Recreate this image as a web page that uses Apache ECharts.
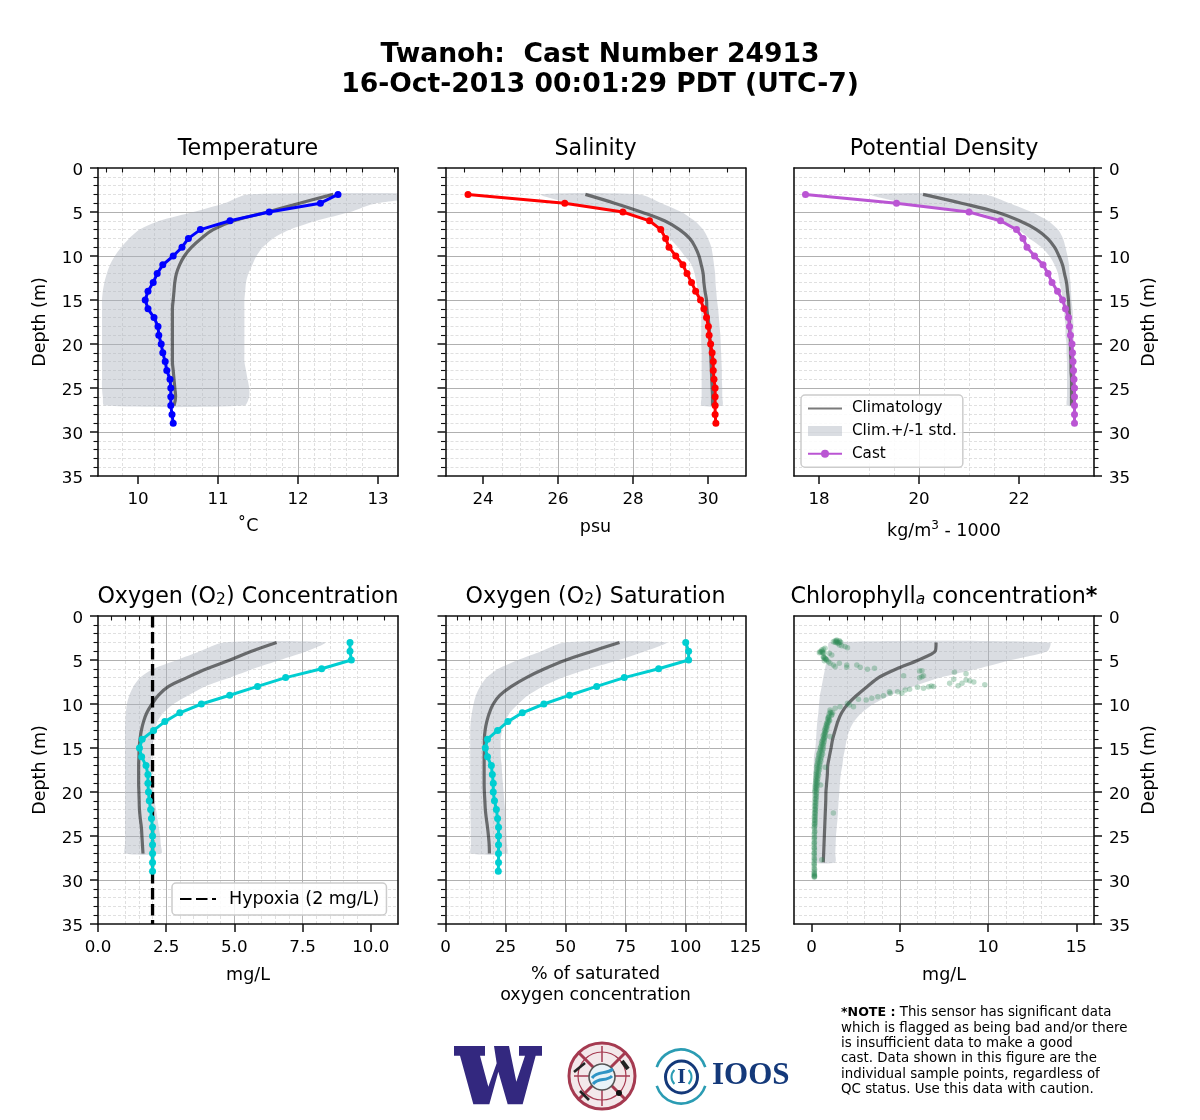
<!DOCTYPE html>
<html><head><meta charset="utf-8">
<style>html,body{margin:0;padding:0;background:#fff}#c{width:1200px;height:1120px}</style>
<script src="https://cdn.jsdelivr.net/npm/echarts@6/dist/echarts.min.js"></script>
</head><body><div id="c"></div>
<script>
// ---------- data ----------
const castDepth = [3,4,5,6,7,8,9,10,11,12,13,14,15,16,17,18,19,20,21,22,23,24,25,26,27,28,29];
const climDepth = [3,4,5,6,7,8,9,10,11,12,13,14,15,16,17,18,19,20,21,22,23,24,25,26,27];
const chlClimDepth = [3,4,5,6,7,8,9,10,11,12,13,14,15,16,17,18,19,20,21,22,23,24,25,26,27,28];

const tempCast = [12.5,12.28,11.64,11.15,10.78,10.63,10.55,10.44,10.31,10.24,10.19,10.125,10.09,10.125,10.2,10.25,10.26,10.29,10.31,10.34,10.36,10.4,10.41,10.41,10.41,10.425,10.44];
const tempClim = [12.44,12.02,11.62,11.2,10.94,10.79,10.67,10.58,10.52,10.48,10.46,10.45,10.44,10.43,10.43,10.43,10.43,10.43,10.43,10.43,10.44,10.45,10.46,10.47,10.45];
const tempLow  = [11.37,11.08,10.69,10.27,10.02,9.89,9.79,9.71,9.65,9.61,9.58,9.56,9.55,9.55,9.55,9.55,9.55,9.55,9.55,9.55,9.55,9.55,9.55,9.56,9.58];
const tempHigh = [13.9,12.98,12.65,12.23,11.9,11.69,11.56,11.48,11.43,11.38,11.35,11.34,11.33,11.33,11.33,11.33,11.33,11.33,11.33,11.33,11.35,11.37,11.39,11.39,11.33];

const salCast = [23.6,26.18,27.73,28.44,28.74,28.87,28.96,29.14,29.33,29.44,29.56,29.67,29.8,29.89,29.96,30.01,30.03,30.07,30.11,30.14,30.14,30.16,30.19,30.19,30.19,30.19,30.21];
const salClim = [26.73,27.51,28.22,28.84,29.24,29.51,29.66,29.76,29.82,29.87,29.89,29.92,29.96,29.97,30,30.03,30.04,30.06,30.07,30.08,30.09,30.1,30.11,30.12,30.12];
const salLow  = [25.55,26.36,27.82,28.44,28.76,28.98,29.2,29.38,29.56,29.64,29.69,29.73,29.78,29.82,29.82,29.82,29.82,29.82,29.83,29.83,29.83,29.83,29.83,29.83,29.83];
const salHigh = [28.18,28.76,29.29,29.64,29.87,30,30.09,30.13,30.16,30.19,30.2,30.22,30.24,30.27,30.29,30.31,30.33,30.34,30.35,30.36,30.37,30.37,30.38,30.38,30.38];

const densCast = [17.73,19.55,21,21.63,21.95,22.08,22.16,22.31,22.48,22.58,22.66,22.77,22.87,22.93,22.99,23.01,23.03,23.06,23.07,23.08,23.09,23.1,23.11,23.11,23.11,23.11,23.11];
const densClim = [20.08,20.85,21.55,22.01,22.35,22.57,22.71,22.8,22.87,22.91,22.95,22.97,22.99,23,23.01,23.01,23.02,23.03,23.03,23.04,23.04,23.05,23.05,23.05,23.05];
const densLow  = [19.05,19.75,21.15,21.65,21.98,22.21,22.45,22.61,22.71,22.78,22.81,22.85,22.88,22.9,22.91,22.93,22.93,22.95,22.95,22.96,22.96,22.96,22.96,22.96,22.96];
const densHigh = [21.31,21.81,22.25,22.58,22.78,22.88,22.93,22.97,23,23.01,23.03,23.04,23.05,23.07,23.08,23.09,23.09,23.1,23.1,23.11,23.11,23.12,23.12,23.13,23.13];

const oxyCast = [9.24,9.24,9.29,8.2,6.88,5.85,4.83,3.79,3,2.45,2.04,1.62,1.52,1.6,1.76,1.83,1.83,1.85,1.88,1.93,1.96,2,2,2,2,2,2];
const oxyClim = [6.55,5.63,4.84,3.99,3.26,2.59,2.22,1.98,1.79,1.67,1.59,1.54,1.51,1.5,1.49,1.49,1.49,1.5,1.51,1.52,1.55,1.59,1.61,1.63,1.65];
const oxyLow  = [4.6,3.74,2.89,2.04,1.55,1.3,1.15,1.06,1.02,1,0.99,0.99,0.99,0.99,0.99,0.99,0.99,0.99,0.99,0.99,0.99,0.99,0.99,0.99,0.99];
const oxyHigh = [8.32,7.65,6.67,5.7,4.84,3.93,3.32,2.77,2.4,2.18,2.1,2.04,1.98,1.96,1.97,1.99,2.01,2.04,2.07,2.13,2.18,2.23,2.28,2.3,2.32];

const satCast = [100.1,101.3,101.3,88.8,74.5,63,51.7,41,32,26,21.7,17.5,16.6,17.5,19.1,19.5,19.9,19.9,20.4,21.2,21.7,22.1,22.1,22.1,22.1,22.1,22];
const satClim = [72.5,61.2,50.2,41.3,33.7,27.5,22.7,19.9,18.3,17.2,16.5,16.2,16.2,16.1,16.1,16.1,16.1,16.2,16.4,16.6,17,17.5,17.9,18.2,18.3];
const satLow  = [49.5,39.9,30.3,22,17.2,14.4,12.7,11.7,11,10.5,10.3,10.3,10.3,10.3,10.3,10.3,10.3,10.3,10.3,10.4,10.4,10.5,10.5,10.6,10.6];
const satHigh = [92,83.2,72.2,59.8,48.8,40.6,34.4,30.3,26.8,24.8,23.6,23,23,23,23.4,23.6,23.9,24.2,24.5,24.8,25,25.2,25.4,25.6,25.6];

const chlClim = [7.05,7,6.06,4.83,3.79,3.16,2.56,2.05,1.7,1.48,1.33,1.19,1.1,1,0.91,0.89,0.85,0.81,0.8,0.78,0.76,0.74,0.72,0.7,0.68,0.66];
const chlLow  = [1,0.95,0.85,0.76,0.66,0.57,0.47,0.42,0.38,0.32,0.28,0.25,0.21,0.13,0.12,0.12,0.12,0.12,0.12,0.12,0.13,0.13,0.13,0.13,0.13,0.13];
const chlHigh = [13.5,13.35,11.3,9.4,7.3,5.78,4.45,3.5,2.84,2.4,2.14,1.99,1.9,1.8,1.74,1.65,1.6,1.57,1.53,1.5,1.47,1.42,1.38,1.36,1.34,1.33];
const chlSampleValue = [1.23,1.33,1.42,1.57,1.65,1.57,1.7,1.89,2.03,1.33,1.48,0.47,0.57,0.66,0.76,0.44,0.61,0.7,0.66,0.76,0.85,0.72,0.95,1.04,1.23,1.33,1.57,1.14,1,1.99,1.99,2.56,2.75,3.16,3.56,5.21,6.12,6.25,6.12,6.25,6.34,8.09,8.75,8.05,7.82,8.3,8.52,8.75,8.96,9.19,9.81,6.78,6.91,6.63,6.34,6,5.55,5.3,5.11,4.87,4.45,4.41,4.07,3.75,3.41,3.09,2.65,2.37,2.14,2.03,1.61,1.33,1.04,1.19,
  1.05,1.0,1.12,0.98,0.93,1.02,0.95,0.88,0.9,0.84,0.86,0.8,0.79,0.74,0.77,0.72,0.7,0.71,0.66,0.67,0.63,0.66,0.6,0.58,0.62,0.55,0.54,0.5,0.52,0.45,0.47,0.43,0.41,0.44,0.38,0.36,0.39,0.33,0.35,0.3,0.33,0.29,0.31,0.27,0.3,0.26,0.28,0.25,0.27,0.24,0.25,0.23,0.24,0.22,0.23,0.21,0.22,0.2,0.21,0.19,0.2,0.19,0.18,0.2,0.17,0.18,0.16,0.18,0.15,0.17,0.15,0.16,0.15,0.15,0.16,0.14,0.15,0.14,0.15,0.14,0.15,0.14,0.15,0.15,0.16,0.15,0.16,0.15,
  1.23,0.57,0.76,0.51,1.04,
  1.4,1.45,1.52,1.38,1.6,0.6,0.52,0.64,0.72,0.68,0.78,0.82,
  1.1,1.15,0.97,0.92,0.99,0.9,0.85,0.83,0.8,0.76,0.73,0.75,0.7,0.65,0.69,0.64,0.6,0.56,0.59,0.53,0.49,0.51,0.46,0.42,0.4,0.42,0.37,0.34,0.36,0.32,0.3,0.28,0.31,0.27,0.26,0.25,0.26,0.24,0.23,0.24,0.22,0.21,0.2,0.21,0.19,0.18,0.19,0.18,0.17,0.16,0.17,0.16,0.15,0.16,0.15,0.14,0.16,0.15,0.14,0.15,0.15,0.16,0.15,0.17,0.15,0.16];
const chlSampleDepth = [2.92,2.8,2.73,2.8,2.99,3.3,3.37,3.48,3.6,2.99,3.11,4.05,3.86,3.79,3.67,4.17,4.13,4.24,4.62,4.81,5,5.08,5.19,5.38,5.57,5.76,5.38,4.43,4.24,5.57,5.83,5.57,5.83,6.06,5.95,6.78,6.25,6.21,7.01,6.89,6.78,6.4,6.55,7.2,7.65,7.92,7.65,7.27,7.35,7.5,7.8,7.95,8,8.03,8.22,8.1,8.33,8.41,8.79,8.6,8.79,8.6,9.05,9.17,9.36,9.55,9.47,10.3,10.11,9.92,10.3,10.49,10.68,10.98,
  10.9,11.1,11.3,11.5,11.7,11.9,12.1,12.3,12.5,12.7,12.9,13.1,13.3,13.5,13.7,13.9,14.1,14.3,14.5,14.7,14.9,15.1,15.3,15.5,15.7,15.9,16.1,16.3,16.5,16.7,16.9,17.1,17.3,17.5,17.7,17.9,18.1,18.3,18.5,18.7,18.9,19.1,19.3,19.5,19.7,19.9,20.1,20.3,20.5,20.7,20.9,21.1,21.3,21.5,21.7,21.9,22.1,22.3,22.5,22.7,22.9,23.1,23.3,23.5,23.7,23.9,24.2,24.5,24.8,25.1,25.4,25.7,26,26.3,26.6,26.9,27.2,27.5,27.8,28.1,28.4,28.7,29,29.2,29.4,29.5,29.6,29.7,
  22.4,27.7,17.2,19.2,13.7,
  2.85,2.9,3.05,3.0,2.95,4.0,4.1,4.2,4.7,4.75,4.85,4.95,
  11,11.2,11.4,11.6,11.8,12,12.2,12.4,12.6,12.8,13,13.2,13.4,13.6,13.8,14,14.2,14.4,14.6,14.8,15,15.2,15.4,15.6,15.8,16,16.2,16.4,16.6,16.8,17,17.2,17.4,17.6,17.8,18,18.2,18.4,18.6,18.8,19,19.2,19.4,19.6,19.8,20,20.4,20.8,21.2,21.6,22,22.4,22.8,23.2,23.6,24,24.6,25.2,25.8,26.4,27,27.6,28.2,28.8,29.3,29.6];

const hypoxiaValue = [2,2];
const hypoxiaDepth = [0,35];

const depthTicks = 5;
const titles = ['{n|Temperature}','{n|Salinity}','{n|Potential Density}','{n|Oxygen (O}{s|2}{n|) Concentration}','{n|Oxygen (O}{s|2}{n|) Saturation}','{n|Chlorophyll}{i|a}{n| concentration}{b|*}'];
const xNames = ['{t|\u02DA}{t|C}','psu','{t|kg/m}{u|3}{t| - 1000}','mg/L','% of saturated\noxygen concentration','mg/L'];
const xNameGaps = [39,40,44,40,39.5,40];
const xMin = [9.5,23,17.5,0,0,-1];
const xMax = [13.25,31,23.5,11,125,16];
const xTicks = [[10,11,12,13],[24,26,28,30],[18,20,22],[0,2.5,5,7.5,10],[0,25,50,75,100,125],[0,5,10,15]];
const xMinorStep = [0.2,0.5,0.5,0.5,5,1];
const xMinorStart = [9.6,23,17.5,0,0,-1];
const panelColors = ['#0000ff','#ff0000','#ba55d3','#00ced1','#00ced1'];

// ---------- layout / style ----------
const FONT = '"DejaVu Sans"';
const lefts = [98,445.5,794,98,445.5,794];
const tops = [168,168,168,616,616,616];
const W = 300, H = 308;
const SPINE = {show:true,onZero:false,lineStyle:{color:'#111',width:1.6}};
const MAJOR = {show:true,lineStyle:{color:'#b0b0b0',width:1},showMinLine:false,showMaxLine:false};
const MINOR = {show:true,lineStyle:{color:'#d2d2d2',width:0.7,type:[3,2]},showMinLine:false,showMaxLine:false};
const BAND = 'rgba(173,180,190,0.45)';
const CLIM = 'rgba(0,0,0,0.52)';

function minorValues(i){
  const out=[]; const major=xTicks[i];
  for(let v=xMinorStart[i]; v<=xMax[i]+1e-9; v+=xMinorStep[i]){
    const r=Math.round(v*100)/100;
    if(major.indexOf(r)<0 && r>xMin[i] && r<xMax[i]) out.push(r);
  }
  return out;
}
function zip(a,b){return a.map((v,i)=>[v,b[i]]);}

const grid=[], xAxis=[], yAxis=[], series=[], title=[];
for(let i=0;i<6;i++){
  grid.push({left:lefts[i],top:tops[i],width:W,height:H,show:false});
  const right = (i===2||i===5);
  const labelled = (i%3!==1);
  xAxis.push({gridIndex:i,type:'value',position:'bottom',min:xMin[i],max:xMax[i],
    axisLine:SPINE,
    axisTick:{show:true,length:8,inside:false,customValues:xTicks[i],lineStyle:{color:'#111',width:1.5}},
    axisLabel:{show:true,customValues:xTicks[i],color:'#000',fontFamily:FONT,fontSize:16.7,margin:15,hideOverlap:false,
      formatter:v=> i===3? v.toFixed(1): String(v)},
    splitLine:MAJOR,
    name:xNames[i],nameLocation:'middle',nameGap:xNameGaps[i],
    nameTextStyle:{color:'#000',fontFamily:FONT,fontSize:17.5,lineHeight:i===4?21:23,verticalAlign:i===4?'top':undefined,
      rich:{t:{fontFamily:FONT,fontSize:17.5,color:'#000'},u:{fontFamily:FONT,fontSize:12,color:'#000',verticalAlign:'top',lineHeight:18}}}
  });
  xAxis.push({gridIndex:i,type:'value',position:'bottom',min:xMin[i],max:xMax[i],
    axisLine:{show:false},
    axisTick:{show:true,length:4.5,customValues:minorValues(i),lineStyle:{color:'#111',width:1.1}},
    axisLabel:{show:false},splitLine:MINOR});
  xAxis.push({gridIndex:i,type:'value',position:'top',min:xMin[i],max:xMax[i],z:10,
    axisLine:SPINE,axisTick:{show:false},axisLabel:{show:false},splitLine:{show:false}});
  yAxis.push({gridIndex:i,type:'value',inverse:true,position:right?'right':'left',min:0,max:35,interval:depthTicks,
    axisLine:SPINE,
    axisTick:{show:true,length:8,lineStyle:{color:'#111',width:1.5}},
    minorTick:{show:true,splitNumber:5,length:4.5,lineStyle:{color:'#111',width:1.1}},
    axisLabel:{show:labelled,margin:15,formatter:v=>'{a|'+v+'}',
      rich:{a:{color:'#000',fontFamily:FONT,fontSize:16.7,padding:[6,0,0,0]}}},
    splitLine:MAJOR,minorSplitLine:MINOR,
    name:labelled?'Depth (m)':'',nameLocation:'middle',nameGap:right?46:49,nameRotate:90,
    nameTextStyle:{color:'#000',fontFamily:FONT,fontSize:17.5}});
  yAxis.push({gridIndex:i,type:'value',inverse:true,position:right?'left':'right',min:0,max:35,z:10,
    axisLine:SPINE,axisTick:{show:false},axisLabel:{show:false},splitLine:{show:false}});
  title.push({text:titles[i],left:lefts[i]+W/2-5,top:tops[i]-35,textAlign:'center',
    textStyle:{fontFamily:FONT,fontSize:22.2,fontWeight:'normal',color:'#000',
      rich:{n:{fontFamily:FONT,fontSize:22.2,color:'#000'},
            s:{fontFamily:FONT,fontSize:15.5,color:'#000',verticalAlign:'bottom',lineHeight:16},
            i:{fontFamily:FONT,fontSize:15.5,fontStyle:'italic',color:'#000',verticalAlign:'bottom',lineHeight:16},
            b:{fontFamily:FONT,fontSize:22.2,fontWeight:'bold',color:'#000'}}}});
}

function bandSeries(i,name,low,high,depth){
  const rows=depth.map((d,k)=>[low[k],high[k],d]);
  series.push({type:'custom',name,xAxisIndex:3*i,yAxisIndex:2*i,coordinateSystem:'cartesian2d',clip:true,z:2,
    data:rows,encode:{x:[0,1],y:2},silent:true,
    itemStyle:{color:BAND},
    renderItem:function(params,api){
      if(params.dataIndex!==0) return null;
      const pts=[];
      rows.forEach(r=>pts.push(api.coord([r[0],r[2]])));
      for(let k=rows.length-1;k>=0;k--) pts.push(api.coord([rows[k][1],rows[k][2]]));
      return {type:'polygon',shape:{points:pts,smooth:0.25},style:{fill:BAND},
        clipPath:{type:'rect',shape:{x:params.coordSys.x,y:params.coordSys.y,width:params.coordSys.width,height:params.coordSys.height}}};
    }});
}
function climSeries(i,name,vals,depth,smooth){
  series.push({type:'line',name,xAxisIndex:3*i,yAxisIndex:2*i,data:zip(vals,depth),showSymbol:false,symbol:'none',z:3,smooth:smooth===undefined?0.4:smooth,
    lineStyle:{color:CLIM,width:3.2},itemStyle:{color:CLIM}});
}
function castSeries(i,name,vals){
  series.push({type:'line',name,xAxisIndex:3*i,yAxisIndex:2*i,data:zip(vals,castDepth),symbol:'circle',symbolSize:7,showSymbol:true,z:5,
    lineStyle:{color:panelColors[i],width:3},itemStyle:{color:panelColors[i]}});
}

bandSeries(0,'tempBand',tempLow,tempHigh,climDepth); climSeries(0,'tempClim',tempClim,climDepth); castSeries(0,'tempCast',tempCast);
bandSeries(1,'salBand',salLow,salHigh,climDepth); climSeries(1,'salClim',salClim,climDepth); castSeries(1,'salCast',salCast);
bandSeries(2,'Clim.+/-1 std.',densLow,densHigh,climDepth); climSeries(2,'Climatology',densClim,climDepth); castSeries(2,'Cast',densCast);
bandSeries(3,'oxyBand',oxyLow,oxyHigh,climDepth); climSeries(3,'oxyClim',oxyClim,climDepth);
series.push({type:'line',name:'Hypoxia (2 mg/L)',xAxisIndex:9,yAxisIndex:6,data:zip(hypoxiaValue,hypoxiaDepth),symbol:'none',z:4,
  lineStyle:{color:'#000',width:3.3,type:[11.5,4.5]},itemStyle:{color:'#000'}});
castSeries(3,'oxyCast',oxyCast);
bandSeries(4,'satBand',satLow,satHigh,climDepth); climSeries(4,'satClim',satClim,climDepth); castSeries(4,'satCast',satCast);
bandSeries(5,'chlBand',chlLow,chlHigh,chlClimDepth);
series.push({type:'scatter',name:'chlSamples',xAxisIndex:15,yAxisIndex:10,data:zip(chlSampleValue,chlSampleDepth),symbol:'circle',symbolSize:5.5,z:3,
  itemStyle:{color:'#2e8b57',opacity:0.32}});
climSeries(5,'chlClim',chlClim,chlClimDepth,0.25);

title.push({text:'Twanoh:  Cast Number 24913\n16-Oct-2013 00:01:29 PDT (UTC-7)',left:595,top:35,textAlign:'center',
  textStyle:{fontFamily:FONT,fontSize:26.6,fontWeight:'bold',color:'#000',lineHeight:30}});

const legend=[
 {left:801,top:395,orient:'vertical',padding:[6,6,6,6],itemGap:7.6,itemWidth:34,itemHeight:10,
  backgroundColor:'rgba(255,255,255,0.85)',borderColor:'#ccc',borderWidth:1.5,borderRadius:4,selectedMode:false,z:20,
  textStyle:{fontFamily:FONT,fontSize:15.2,color:'#000',padding:[0,0,0,5]},
  data:[{name:'Climatology',itemStyle:{opacity:0}},{name:'Clim.+/-1 std.',icon:'rect'},{name:'Cast'}]},
 {left:172,top:883,orient:'vertical',padding:[7,7,7,7],itemWidth:36,itemHeight:14,
  backgroundColor:'rgba(255,255,255,0.85)',borderColor:'#ccc',borderWidth:1.5,borderRadius:4,selectedMode:false,z:20,
  textStyle:{fontFamily:FONT,fontSize:17.5,color:'#000',padding:[0,0,0,8]},
  data:[{name:'Hypoxia (2 mg/L)',itemStyle:{opacity:0}}]}
];

const maroon='#a53a50', navy='#14397a', teal='#2b9cb3';
const wz=[[27,33],[120,33],[120,62],[105,62],[130,155],[155,85],[147,33],[192,33],[214,140],[240,62],[222,62],[222,33],[291,33],[291,62],[272,62],[233,208],[188,208],[160,110],[133,208],[85,208],[45,62],[27,62]];
const graphic=[
 {type:'text',left:841,top:1005,style:{text:'{b|*NOTE :} This sensor has significant data\nwhich is flagged as being bad and/or there\nis insufficient data to make a good\ncast. Data shown in this figure are the\nindividual sample points, regardless of\nQC status. Use this data with caution.',
   fontFamily:FONT,fontSize:13.4,fill:'#000',lineHeight:15.4,
   rich:{b:{fontFamily:FONT,fontSize:12.6,fontWeight:'bold',fill:'#000'}}}},
 {type:'polygon',shape:{points:wz.map(p=>[445+p[0]/3,1035+p[1]/3])},style:{fill:'#33287f'}},
 {type:'circle',shape:{cx:602,cy:1076,r:33},style:{fill:'#f3e8ea',stroke:maroon,lineWidth:3}},
 {type:'circle',shape:{cx:602,cy:1076,r:24},style:{fill:'none',stroke:maroon,lineWidth:1.2}},
 {type:'line',shape:{x1:578,y1:1052,x2:626,y2:1100},style:{stroke:maroon,lineWidth:3}},
 {type:'line',shape:{x1:626,y1:1052,x2:578,y2:1100},style:{stroke:maroon,lineWidth:3}},
 {type:'line',shape:{x1:574,y1:1076,x2:590,y2:1076},style:{stroke:maroon,lineWidth:1.5}},
 {type:'line',shape:{x1:614,y1:1076,x2:630,y2:1076},style:{stroke:maroon,lineWidth:1.5}},
 {type:'line',shape:{x1:602,y1:1046,x2:602,y2:1062},style:{stroke:maroon,lineWidth:1.5}},
 {type:'line',shape:{x1:602,y1:1090,x2:602,y2:1106},style:{stroke:maroon,lineWidth:1.5}},
 {type:'line',shape:{x1:574,y1:1072,x2:585,y2:1063},style:{stroke:'#222',lineWidth:2.6}},
 {type:'line',shape:{x1:622,y1:1061,x2:628,y2:1069},style:{stroke:'#222',lineWidth:4}},
 {type:'line',shape:{x1:580,y1:1091,x2:589,y2:1100},style:{stroke:'#222',lineWidth:2.6}},
 {type:'circle',shape:{cx:619,cy:1093,r:3},style:{fill:'#111'}},
 {type:'circle',shape:{cx:602,cy:1077,r:13},style:{fill:'#e9f3f8',stroke:'#555',lineWidth:1.6}},
 {type:'bezierCurve',shape:{x1:592,y1:1078,cpx1:598,cpy1:1070,cpx2:606,cpy2:1075,x2:613,y2:1069},style:{stroke:'#2f94c5',lineWidth:3,fill:'none'}},
 {type:'bezierCurve',shape:{x1:593,y1:1084,cpx1:599,cpy1:1077,cpx2:606,cpy2:1082,x2:612,y2:1076},style:{stroke:'#2f94c5',lineWidth:3,fill:'none'}},
 {type:'arc',shape:{cx:681,cy:1075,r:25.5,startAngle:Math.PI*1.1,endAngle:Math.PI*1.9,clockwise:true},style:{stroke:teal,lineWidth:2.6,fill:'none'}},
 {type:'arc',shape:{cx:681,cy:1078,r:25.5,startAngle:Math.PI*0.1,endAngle:Math.PI*0.9,clockwise:true},style:{stroke:teal,lineWidth:2.6,fill:'none'}},
 {type:'circle',shape:{cx:681.5,cy:1077,r:16},style:{fill:'#fff',stroke:navy,lineWidth:3}},
 {type:'arc',shape:{cx:681.5,cy:1077,r:10,startAngle:Math.PI*0.75,endAngle:Math.PI*1.25,clockwise:true},style:{stroke:teal,lineWidth:2,fill:'none'}},
 {type:'arc',shape:{cx:681.5,cy:1077,r:10,startAngle:-Math.PI*0.25,endAngle:Math.PI*0.25,clockwise:true},style:{stroke:teal,lineWidth:2,fill:'none'}},
 {type:'text',x:681.5,y:1077,style:{text:'I',fontFamily:'"Liberation Serif"',fontWeight:'bold',fontSize:22,fill:navy,textAlign:'center',textVerticalAlign:'middle'}},
 {type:'text',x:712,y:1076,style:{text:'IOOS',fontFamily:'"Liberation Serif"',fontWeight:'bold',fontSize:31,fill:navy,textAlign:'left',textVerticalAlign:'middle'}}
];

const chart=echarts.init(document.getElementById('c'),null,{renderer:'canvas',width:1200,height:1120});
chart.setOption({backgroundColor:'#fff',animation:false,tooltip:{show:false},grid,xAxis,yAxis,series,title,legend,graphic});
</script></body></html>
